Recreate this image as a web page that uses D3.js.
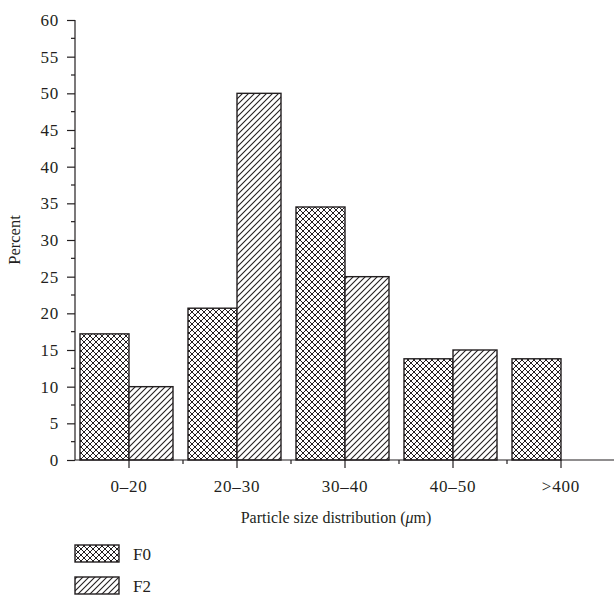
<!DOCTYPE html>
<html><head><meta charset="utf-8">
<script src="https://cdn.jsdelivr.net/npm/d3@7"></script>
<style>
body{margin:0;background:#fff;}
text{font-family:"Liberation Serif","DejaVu Serif",serif;fill:#231f20;}
</style></head>
<body><svg id="c" width="614" height="596"></svg>
<script>
const categories = ["0–20","20–30","30–40","40–50",">400"];
const seriesNames = ["F0","F2"];
const f0Values = [17.2, 20.7, 34.5, 13.8, 13.8];
const f2Values = [10, 50, 25, 15, 0];
const yTicks = [0,5,10,15,20,25,30,35,40,45,50,55,60];

const ink = "#231f20";
const svg = d3.select("#c");
const defs = svg.append("defs");

// crosshatch pattern
const ph = defs.append("pattern").attr("id","cross").attr("patternUnits","userSpaceOnUse")
  .attr("width",6).attr("height",6);
ph.append("rect").attr("width",6).attr("height",6).attr("fill","#fff");
ph.append("path").attr("d","M-1,1 L1,-1 M0,6 L6,0 M5,7 L7,5 M-1,5 L1,7 M0,0 L6,6 M5,-1 L7,1")
  .attr("stroke",ink).attr("stroke-width",1.0);
// diagonal hatch
const pd = defs.append("pattern").attr("id","diag").attr("patternUnits","userSpaceOnUse")
  .attr("width",6).attr("height",6);
pd.append("rect").attr("width",6).attr("height",6).attr("fill","#fff");
pd.append("path").attr("d","M-1,1 L1,-1 M0,6 L6,0 M5,7 L7,5")
  .attr("stroke",ink).attr("stroke-width",1.1);

const y = d3.scaleLinear().domain([0,60]).range([460,20]);
const x = d3.scaleBand().domain(categories).range([75,615]);
const center = c => x(c) + x.bandwidth()/2;
const wF0 = 49, wF2 = 44;

// bars
const gb = svg.append("g");
categories.forEach((c,i)=>{
  if (f0Values[i] > 0)
    gb.append("rect").attr("x", center(c)-wF0).attr("y", y(f0Values[i]))
      .attr("width", wF0).attr("height", y(0)-y(f0Values[i]))
      .attr("fill","url(#cross)").attr("stroke",ink).attr("stroke-width",1.4);
  if (f2Values[i] > 0)
    gb.append("rect").attr("x", center(c)).attr("y", y(f2Values[i]))
      .attr("width", wF2).attr("height", y(0)-y(f2Values[i]))
      .attr("fill","url(#diag)").attr("stroke",ink).attr("stroke-width",1.4);
});

// y axis
const ya = svg.append("g").attr("transform","translate(75,0)");
ya.call(d3.axisLeft(y).tickValues(yTicks).tickSize(8).tickPadding(8).tickFormat(d3.format("d")));
ya.selectAll(".tick text").style("font-size","17px").style("letter-spacing","0.8px").attr("fill",ink);
ya.selectAll("line,path").attr("stroke",ink).attr("stroke-width",1.2);
ya.select(".domain").attr("d","M0,20V460");
const minorY = d3.range(2.5,60,5);
ya.selectAll(".minor").data(minorY).enter().append("line").attr("class","minor")
  .attr("x1",0).attr("x2",-4).attr("y1",d=>y(d)).attr("y2",d=>y(d))
  .attr("stroke",ink).attr("stroke-width",1.2);

// x axis
const xa = svg.append("g").attr("transform","translate(0,460)");
xa.append("line").attr("x1",75).attr("x2",615).attr("y1",0).attr("y2",0)
  .attr("stroke",ink).attr("stroke-width",1.2);
xa.selectAll(".maj").data(categories).enter().append("line")
  .attr("x1",d=>center(d)).attr("x2",d=>center(d)).attr("y1",0).attr("y2",8)
  .attr("stroke",ink).attr("stroke-width",1.2);
xa.selectAll(".mnr").data(categories.slice(1)).enter().append("line")
  .attr("x1",d=>x(d)).attr("x2",d=>x(d)).attr("y1",0).attr("y2",4)
  .attr("stroke",ink).attr("stroke-width",1.2);
xa.selectAll(".lbl").data(categories).enter().append("text")
  .attr("x",d=>center(d)).attr("y",32).attr("text-anchor","middle")
  .style("font-size","17px").style("letter-spacing","0.8px").text(d=>d);

// axis titles
svg.append("text").attr("transform","translate(20,240) rotate(-90)")
  .attr("text-anchor","middle").style("font-size","16.5px").text("Percent");
const xt = svg.append("text").attr("x",336).attr("y",523).attr("text-anchor","middle").style("font-size","16px");
xt.append("tspan").text("Particle size distribution (");
xt.append("tspan").style("font-style","italic").text("μ");
xt.append("tspan").text("m)");

// legend
const lg = svg.append("g");
seriesNames.forEach((s,i)=>{
  lg.append("rect").attr("x",75).attr("y",545+i*32).attr("width",44).attr("height",17)
    .attr("fill", i===0 ? "url(#cross)" : "url(#diag)").attr("stroke",ink).attr("stroke-width",1.4);
  lg.append("text").attr("x",133).attr("y",560+i*32).style("font-size","17px").text(s);
});
</script></body></html>
